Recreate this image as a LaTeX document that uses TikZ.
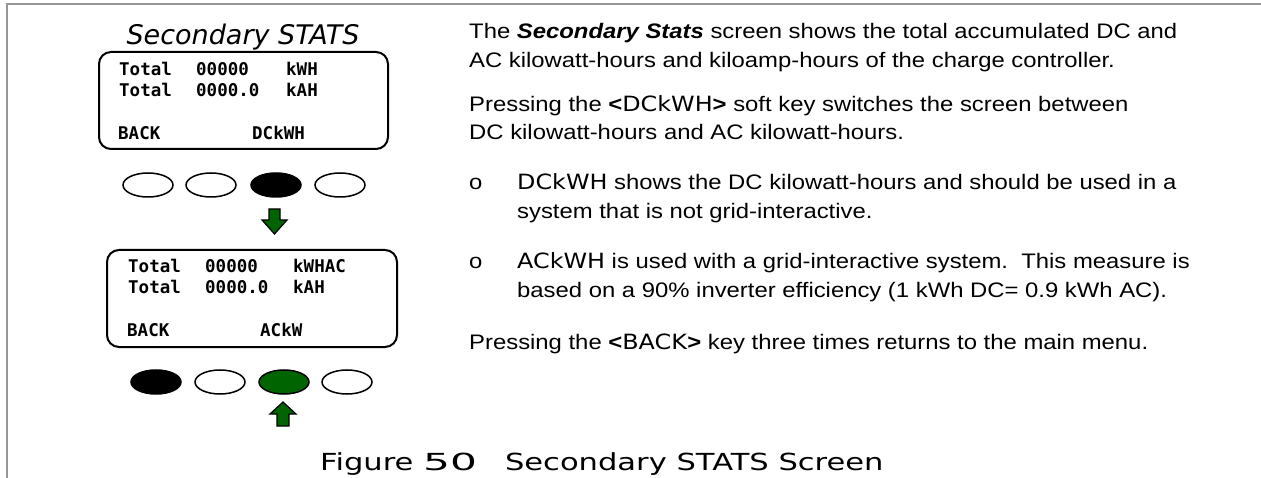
\documentclass[tikz,border=0pt]{standalone}
\usepackage{fontspec}
\setmainfont{Liberation Sans}[FakeStretch=1.136]
\newfontfamily\lcdfont{DejaVu Sans Mono}
\newfontfamily\keyfont{DejaVu Sans}[FakeStretch=1.136]
\newfontfamily\titlefont{DejaVu Sans}
\newfontfamily\capfont{DejaVu Sans}[FakeStretch=1.3]
\newfontfamily\capdigits{DejaVu Sans}[FakeStretch=1.8]
\usepackage{tikz}
\usetikzlibrary{shapes.geometric,positioning}
\definecolor{KeyGreen}{RGB}{0,100,0}
\definecolor{FrameGray}{RGB}{150,150,150}

\tikzset{
  lcd/.style={draw,line width=2pt,rounded corners=12pt},
  lcdtxt/.style={anchor=base west,inner sep=0pt,
    font=\lcdfont\bfseries\fontsize{17.5}{20}\selectfont},
  softkey/.style={draw,ellipse,line width=1.5pt,minimum width=50pt,
    minimum height=24pt,inner sep=0pt},
  bodytxt/.style={anchor=base west,inner sep=0pt,
    font=\fontsize{21}{25}\selectfont},
  keyarrow/.style={draw,line width=1.2pt,fill=KeyGreen,line join=miter}
}
\newcommand{\kw}[1]{{\keyfont #1}}

\begin{document}
\begin{tikzpicture}[x=1pt,y=-1pt]
\useasboundingbox (0,0) rectangle (1261,478);
\draw[FrameGray,line width=2pt] (7,478) -- (7,4) -- (1261,4);

% first screen
\node[font=\titlefont\itshape\fontsize{27}{32}\selectfont,inner sep=0pt] (title) at (243,37) {Secondary STATS};
\draw[lcd] (99,52) rectangle (388,149);
\node[lcdtxt] (t1a) at (119,76) {Total};
\node[lcdtxt] (t1b) at (196,76) {00000};
\node[lcdtxt] (t1c) at (286,76) {kWH};
\node[lcdtxt] (t2a) at (119,97) {Total};
\node[lcdtxt] (t2b) at (196,97) {0000.0};
\node[lcdtxt] (t2c) at (286,97) {kAH};
\node[lcdtxt] (s1a) at (118,140) {BACK};
\node[lcdtxt] (s1b) at (252,140) {DCkWH};

\foreach \x/\c [count=\i] in {148/white,211/white,276/black,340/white}
  \node[softkey,fill=\c] (ka\i) at (\x,185) {};
% down arrow
\draw[keyarrow] (269,209) -- (280,209) -- (280,220) -- (287,220) -- (274.5,234)
  -- (262,220) -- (269,220) -- cycle;

% second screen
\draw[lcd] (107,250) rectangle (397,347);
\node[lcdtxt] (u1a) at (128,273) {Total};
\node[lcdtxt] (u1b) at (205,273) {00000};
\node[lcdtxt] (u1c) at (293,273) {kWHAC};
\node[lcdtxt] (u2a) at (128,294) {Total};
\node[lcdtxt] (u2b) at (205,294) {0000.0};
\node[lcdtxt] (u2c) at (293,294) {kAH};
\node[lcdtxt] (s2a) at (127,337) {BACK};
\node[lcdtxt] (s2b) at (260,337) {ACkW};

\foreach \x/\c [count=\i] in {156/black,220/white,284/KeyGreen,347/white}
  \node[softkey,fill=\c] (kb\i) at (\x,382) {};
% up arrow
\draw[keyarrow] (283,402) -- (296,414) -- (289,414) -- (289,426) -- (277,426)
  -- (277,414) -- (270,414) -- cycle;

% description
\node[bodytxt] (p1a) at (469,39) {The \textbf{\textit{Secondary Stats}} screen shows the total accumulated DC and};
\node[bodytxt] (p1b) at (469,68) {AC kilowatt-hours and kiloamp-hours of the charge controller.};
\node[bodytxt] (p2a) at (469,112) {Pressing the \textbf{<}\kw{DCkWH}\textbf{>} soft key switches the screen between};
\node[bodytxt] (p2b) at (469,140) {DC kilowatt-hours and AC kilowatt-hours.};
\node[bodytxt] (o1) at (469,190) {o};
\node[bodytxt] (b1a) at (517,190) {\kw{DCkWH} shows the DC kilowatt-hours and should be used in a};
\node[bodytxt] (b1b) at (517,219) {system that is not grid-interactive.};
\node[bodytxt] (o2) at (469,269) {o};
\node[bodytxt] (b2a) at (517,269) {\kw{ACkWH} is used with a grid-interactive system.\ \ This measure is};
\node[bodytxt] (b2b) at (517,298) {based on a 90\% inverter efficiency (1 kWh DC= 0.9 kWh AC).};
\node[bodytxt] (p3) at (469,349) {Pressing the \textbf{<}\kw{BACK}\textbf{>} key three times returns to the main menu.};

% caption
\node[anchor=base west,inner sep=0pt,font=\capfont\fontsize{23.5}{28}\selectfont] (cap) at (320,470) {Figure {\capdigits 50}\hspace{28pt}Secondary STATS Screen};
\end{tikzpicture}
\end{document}
